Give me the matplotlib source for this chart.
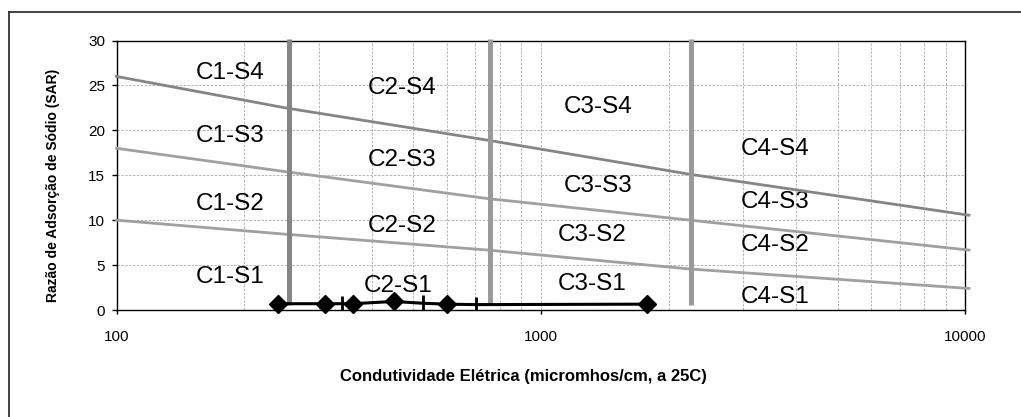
import matplotlib
matplotlib.use("Agg")
import matplotlib.pyplot as plt
from matplotlib.lines import Line2D
from matplotlib.ticker import LogLocator, NullFormatter

plt.rcParams["font.family"] = ["Liberation Sans", "DejaVu Sans"]

# SAR class boundaries (polyline vertices, EC in micromhos/cm)
bound_ec = [100, 250, 750, 2250, 10200]
bound_s34 = [26.0, 22.5, 18.9, 15.1, 10.55]
bound_s23 = [18.0, 15.4, 12.4, 10.0, 6.67]
bound_s12 = [10.0, 8.44, 6.67, 4.56, 2.4]

# salinity class boundaries (vertical bars)
c_ec = [255, 760, 2255]
c_bottom = [0.55, 0.75, 0.55]
c_top = [30.2, 30.2, 30.2]
c_colors = ["#858585", "#9a9a9a", "#9a9a9a"]

# samples
sample_ec = [240, 310, 360, 450, 600, 1780]
sample_sar = [0.7, 0.7, 0.7, 0.95, 0.65, 0.65]
tick_ec = [340, 528, 703]
tick_sar = [0.7, 0.75, 0.6]

# class labels
label_text = ["C1-S4", "C1-S3", "C1-S2", "C1-S1",
              "C2-S4", "C2-S3", "C2-S2", "C2-S1",
              "C3-S4", "C3-S3", "C3-S2", "C3-S1",
              "C4-S4", "C4-S3", "C4-S2", "C4-S1"]
label_ec = [185, 185, 185, 185,
            471, 471, 471, 460,
            1363, 1363, 1320, 1320,
            3562, 3562, 3562, 3562]
label_sar = [26.4, 19.4, 11.8, 3.7,
             24.7, 16.7, 9.3, 2.7,
             22.6, 13.8, 8.3, 2.9,
             17.9, 12.0, 7.2, 1.5]

W, H = 1021, 417
fig = plt.figure(figsize=(W / 100, H / 100), dpi=100)
ax = fig.add_axes([116.5 / W, 1 - 310 / H, (965.3 - 116.5) / W, (310 - 40.5) / H])

ax.set_xscale("log")
ax.set_xlim(100, 10000)
ax.set_ylim(0, 30)

ax.plot(bound_ec, bound_s34, color="#858585", lw=2.0, clip_on=False, zorder=3)
ax.plot(bound_ec, bound_s23, color="#a0a0a0", lw=2.0, clip_on=False, zorder=3)
ax.plot(bound_ec, bound_s12, color="#a0a0a0", lw=2.0, clip_on=False, zorder=3)

for x, y0, y1, c in zip(c_ec, c_bottom, c_top, c_colors):
    ax.plot([x, x], [y0, y1], color=c, lw=3.6, clip_on=False, zorder=3,
            solid_capstyle="butt")

# sample line through diamonds and tick marks
pts = sorted(zip(sample_ec + tick_ec, sample_sar + tick_sar))
ax.plot([p[0] for p in pts], [p[1] for p in pts], color="black", lw=2.2, zorder=4)
ax.plot(tick_ec, tick_sar, "|", color="black", ms=11, mew=2, zorder=5)
ax.plot(sample_ec, sample_sar, "D", color="black", ms=9, zorder=6, clip_on=False)

for t, x, y in zip(label_text, label_ec, label_sar):
    ax.text(x, y, t, fontsize=17.5, ha="center", va="center", zorder=2)

ax.set_xticks([100, 1000, 10000], labels=["100", "1000", "10000"])
ax.xaxis.set_minor_locator(LogLocator(base=10, subs=range(2, 10)))
ax.xaxis.set_minor_formatter(NullFormatter())
ax.set_yticks(range(0, 31, 5))

ax.tick_params(axis="x", which="major", length=3, width=1, pad=11.5, labelsize=11)
ax.tick_params(axis="x", which="minor", length=0)
ax.tick_params(axis="y", length=3.6, width=1, pad=4.7, labelsize=11)

grid_kw = dict(color="#b4b4b4", lw=0.7, linestyle=(0, (2.5, 1.5)))
ax.grid(True, axis="x", which="both", **grid_kw)
ax.grid(True, axis="y", which="major", **grid_kw)
ax.set_axisbelow(True)

for s in ax.spines.values():
    s.set_linewidth(1.0)
    s.set_color("black")

fig.text(523 / W, 1 - 376 / H, "Condutividade Elétrica (micromhos/cm, a 25C)",
         fontsize=12, fontweight="bold", ha="center", va="center")
fig.text(53.5 / W, 1 - 185 / H, "Razão de Adsorção de Sódio (SAR)",
         fontsize=10, fontweight="bold", ha="center", va="center", rotation=90)

# outer chart frame (cut by image edges)
x0, ytop = 9 / W, 1 - 12 / H
fig.add_artist(Line2D([x0, 1], [ytop, ytop], transform=fig.transFigure, color="#333333", lw=1.3))
fig.add_artist(Line2D([x0, x0], [0, ytop], transform=fig.transFigure, color="#333333", lw=1.3))

fig.savefig("out.png", dpi=100)
